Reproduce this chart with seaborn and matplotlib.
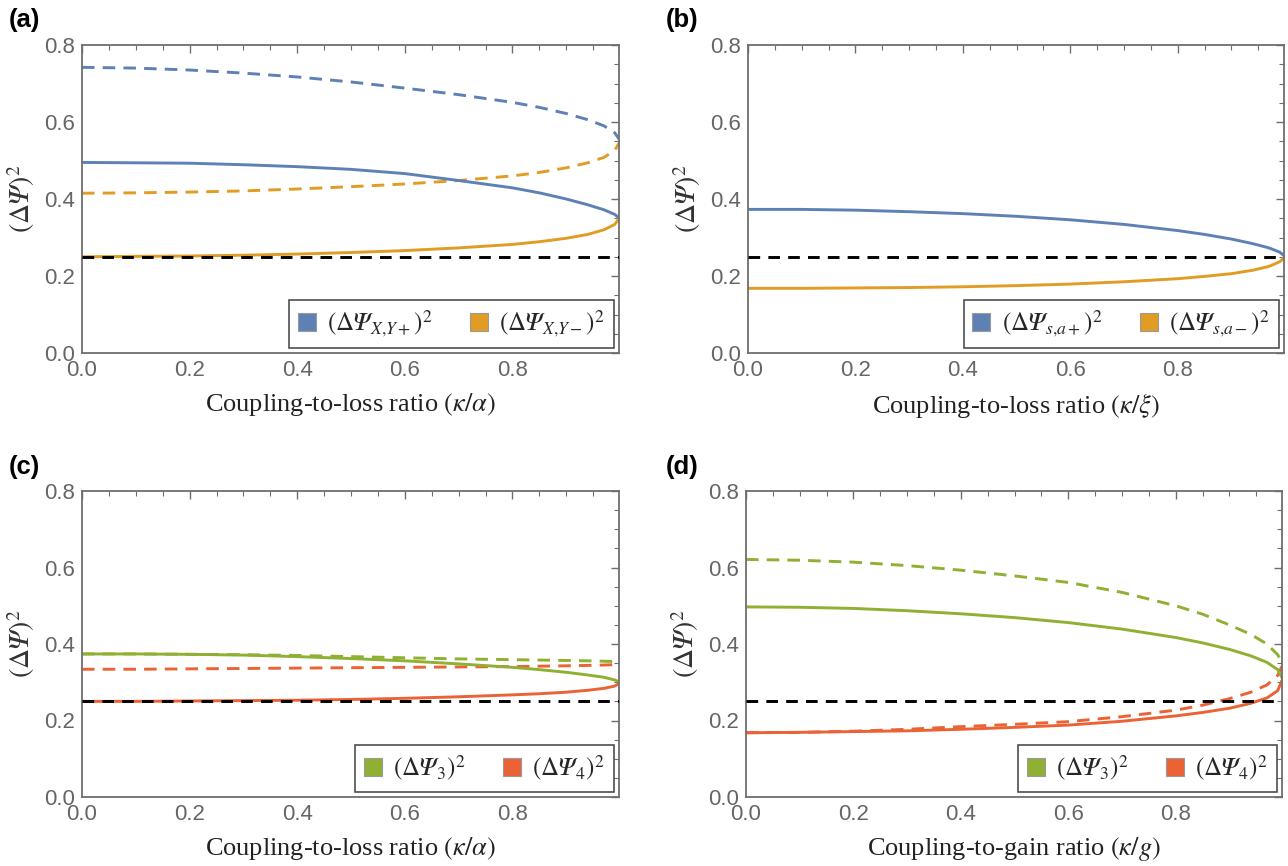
import numpy as np
import pandas as pd
import matplotlib
matplotlib.use("Agg")
import matplotlib.pyplot as plt
from matplotlib.patches import Patch
from matplotlib.ticker import MultipleLocator, FormatStrFormatter
import seaborn as sns

sns.set_theme(style="white")
plt.rcParams["font.family"] = ["Liberation Sans", "DejaVu Sans"]
plt.rcParams["mathtext.fontset"] = "stix"

# ratio kappa/alpha (or kappa/xi, kappa/g)
ratio = [0, 0.1, 0.2, 0.3, 0.4, 0.5, 0.6, 0.7, 0.8, 0.85, 0.9, 0.94, 0.97, 0.99, 0.998]

# panel (a)
a_plus_solid = [0.495, 0.494, 0.493, 0.489, 0.484, 0.477, 0.466, 0.448, 0.429, 0.416, 0.400, 0.385, 0.372, 0.360, 0.351]
a_minus_solid = [0.250, 0.251, 0.252, 0.254, 0.257, 0.261, 0.266, 0.273, 0.282, 0.289, 0.298, 0.308, 0.320, 0.334, 0.349]
a_plus_dash = [0.742, 0.740, 0.735, 0.727, 0.717, 0.704, 0.688, 0.671, 0.651, 0.638, 0.622, 0.606, 0.590, 0.572, 0.556]
a_minus_dash = [0.415, 0.416, 0.418, 0.421, 0.426, 0.432, 0.439, 0.448, 0.460, 0.469, 0.481, 0.494, 0.508, 0.526, 0.545]

# panel (b)
b_plus = [0.373, 0.373, 0.371, 0.367, 0.362, 0.355, 0.346, 0.334, 0.318, 0.308, 0.296, 0.284, 0.273, 0.262, 0.253]
b_minus = [0.168, 0.168, 0.169, 0.170, 0.172, 0.175, 0.179, 0.185, 0.193, 0.199, 0.206, 0.215, 0.225, 0.237, 0.247]

# panel (c)
c_3_solid = [0.374, 0.374, 0.373, 0.371, 0.367, 0.362, 0.356, 0.348, 0.339, 0.333, 0.326, 0.319, 0.313, 0.306, 0.301]
c_4_solid = [0.250, 0.250, 0.251, 0.252, 0.253, 0.255, 0.258, 0.262, 0.267, 0.270, 0.274, 0.279, 0.284, 0.290, 0.297]
c_3_dash = [0.374, 0.374, 0.373, 0.372, 0.370, 0.367, 0.364, 0.361, 0.359, 0.358, 0.357, 0.356, 0.355, 0.354, 0.353]
c_4_dash = [0.334, 0.334, 0.335, 0.336, 0.337, 0.338, 0.339, 0.340, 0.341, 0.342, 0.343, 0.344, 0.345, 0.346, 0.348]

# panel (d)
d_3_solid = [0.497, 0.496, 0.493, 0.487, 0.479, 0.469, 0.456, 0.439, 0.417, 0.403, 0.386, 0.369, 0.352, 0.333, 0.312]
d_4_solid = [0.168, 0.169, 0.171, 0.173, 0.177, 0.182, 0.188, 0.198, 0.212, 0.221, 0.232, 0.245, 0.259, 0.278, 0.305]
d_3_dash = [0.621, 0.619, 0.614, 0.605, 0.593, 0.578, 0.561, 0.535, 0.500, 0.478, 0.450, 0.425, 0.400, 0.372, 0.352]
d_4_dash = [0.168, 0.169, 0.172, 0.177, 0.184, 0.190, 0.197, 0.210, 0.227, 0.240, 0.257, 0.274, 0.293, 0.318, 0.342]

vacuum = 0.25

blue, orange, green, red = "#5e81b5", "#e19c24", "#8fb032", "#eb6235"
frame = "#6e6e6e"
PSI = "\U0001D6F9"  # mathematical italic capital psi

panels = [
    ("(a)", r"Coupling-to-loss ratio $(\kappa/\alpha)$",
     [(a_plus_dash, blue, "--"), (a_minus_dash, orange, "--"),
      (a_plus_solid, blue, "-"), (a_minus_solid, orange, "-")],
     [(blue, r"$(\Delta\mathrm{%s}_{X{,}Y+})^2$" % PSI), (orange, r"$(\Delta\mathrm{%s}_{X{,}Y-})^2$" % PSI)]),
    ("(b)", r"Coupling-to-loss ratio $(\kappa/\xi)$",
     [(b_plus, blue, "-"), (b_minus, orange, "-")],
     [(blue, r"$(\Delta\mathrm{%s}_{s{,}a+})^2$" % PSI), (orange, r"$(\Delta\mathrm{%s}_{s{,}a-})^2$" % PSI)]),
    ("(c)", r"Coupling-to-loss ratio $(\kappa/\alpha)$",
     [(c_3_dash, green, "--"), (c_4_dash, red, "--"),
      (c_3_solid, green, "-"), (c_4_solid, red, "-")],
     [(green, r"$(\Delta\mathrm{%s}_3)^2$" % PSI), (red, r"$(\Delta\mathrm{%s}_4)^2$" % PSI)]),
    ("(d)", r"Coupling-to-gain ratio $(\kappa/g)$",
     [(d_3_dash, green, "--"), (d_4_dash, red, "--"),
      (d_3_solid, green, "-"), (d_4_solid, red, "-")],
     [(green, r"$(\Delta\mathrm{%s}_3)^2$" % PSI), (red, r"$(\Delta\mathrm{%s}_4)^2$" % PSI)]),
]

# axes boxes in figure fractions
boxes = [
    [82 / 1288, 1 - 353 / 866, 537 / 1288, 308 / 866],
    [748 / 1288, 1 - 353 / 866, 536 / 1288, 308 / 866],
    [82 / 1288, 1 - 797 / 866, 537 / 1288, 306 / 866],
    [746 / 1288, 1 - 797 / 866, 536 / 1288, 306 / 866],
]
tag_pos = [(9 / 1288, 1 - 20 / 866), (666 / 1288, 1 - 20 / 866),
           (9 / 1288, 1 - 467 / 866), (666 / 1288, 1 - 467 / 866)]

fig = plt.figure(figsize=(12.88, 8.66), dpi=100)

for (tag, xlabel, curves, legend_items), box, tp in zip(panels, boxes, tag_pos):
    ax = fig.add_axes(box)
    for ys, col, ls in curves:
        df = pd.DataFrame({"ratio": ratio, "var": ys})
        sns.lineplot(data=df, x="ratio", y="var", color=col, linestyle=ls,
                     linewidth=2.1, ax=ax, estimator=None, sort=False)
        if ls == "--":
            ax.lines[-1].set_dashes([4.3, 2.8])
    ax.axhline(vacuum, color="black", linewidth=2.1, linestyle=(0, (4, 2.8)), zorder=5)

    ax.set_xlim(0, 0.998)
    ax.set_ylim(0, 0.8)
    ax.xaxis.set_major_locator(MultipleLocator(0.2))
    ax.xaxis.set_minor_locator(MultipleLocator(0.05))
    ax.yaxis.set_major_locator(MultipleLocator(0.2))
    ax.yaxis.set_minor_locator(MultipleLocator(0.05))
    ax.xaxis.set_major_formatter(FormatStrFormatter("%.1f"))
    ax.yaxis.set_major_formatter(FormatStrFormatter("%.1f"))
    ax.tick_params(which="both", direction="in", top=True, right=True,
                   color=frame, labelcolor="#666666", labelsize=16, pad=5)
    ax.tick_params(which="major", length=6, width=1.0)
    ax.tick_params(which="minor", length=3.5, width=0.8)
    for sp in ax.spines.values():
        sp.set_color(frame)
        sp.set_linewidth(1.3)

    ax.set_xlabel(xlabel, fontsize=19, family=["Liberation Serif", "DejaVu Serif"],
                  color="#222222", labelpad=7)
    ax.set_ylabel(r"$(\Delta\mathrm{%s})^2$" % PSI, fontsize=20, color="#333333", labelpad=5)

    handles = [Patch(facecolor=c, edgecolor="#9a9a9a", linewidth=0.8) for c, _ in legend_items]
    labels = [l for _, l in legend_items]
    leg = ax.legend(handles, labels, loc="lower right", ncol=2, fontsize=18,
                    frameon=True, fancybox=False, edgecolor="#222222",
                    handlelength=0.72, handleheight=0.72, handletextpad=0.45,
                    columnspacing=1.5, borderpad=0.35, borderaxespad=0.22)
    leg.get_frame().set_linewidth(1.2)

    fig.text(tp[0], tp[1], tag, fontsize=18.5, fontweight="bold",
             ha="left", va="center", color="black")

fig.savefig("out.png", dpi=100)
